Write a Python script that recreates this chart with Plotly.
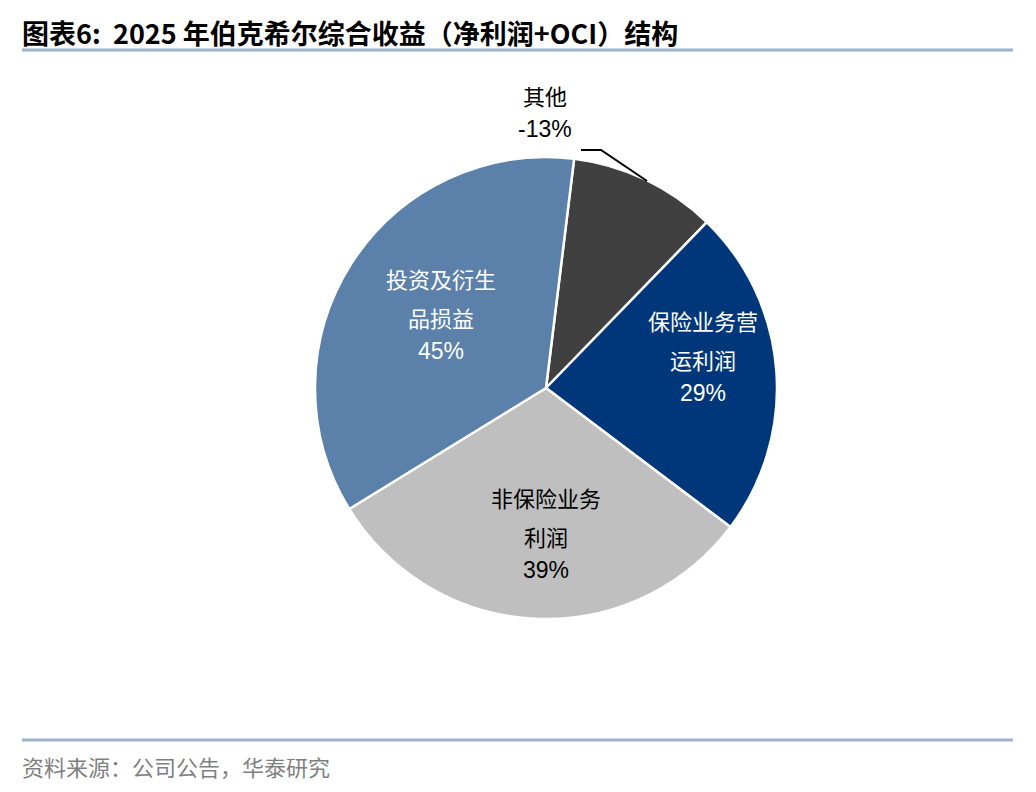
import plotly.graph_objects as go

# 2025 伯克希尔综合收益结构 (%)
categories = ["其他", "保险业务营运利润", "非保险业务利润", "投资及衍生品损益"]
shares = [-13, 29, 39, 45]
label_lines = [["其他"], ["保险业务营", "运利润"], ["非保险业务", "利润"], ["投资及衍生", "品损益"]]

slice_colors = ["#404040", "#00377A", "#BFBFBF", "#5B80AA"]
text_colors = ["#000000", "#FFFFFF", "#000000", "#FFFFFF"]
# label anchor (pixel x, pixel y of first line) for each slice
label_pos = [(545, 95), (703, 320), (546, 497), (441, 278)]

W, H = 1036, 792
CJK = "Noto Sans CJK SC"

fig = go.Figure(go.Pie(
    labels=categories,
    values=[abs(v) for v in shares],
    sort=False,
    direction="clockwise",
    rotation=7,
    marker=dict(colors=slice_colors, line=dict(color="white", width=2.5)),
    textinfo="none",
    hoverinfo="label+percent",
    showlegend=False,
    domain=dict(x=[315 / W, 777 / W], y=[(H - 619) / H, (H - 157) / H]),
))

annotations = []
for lines, v, (px, py), tc in zip(label_lines, shares, label_pos, text_colors):
    for k, line in enumerate(lines):
        annotations.append(dict(x=px / W, y=(H - py - 39 * k) / H, xref="paper", yref="paper",
                                xanchor="center", yanchor="middle",
                                text=line, showarrow=False,
                                font=dict(family=CJK, size=22, color=tc)))
    annotations.append(dict(x=px / W, y=(H - py - 39 * len(lines) + 5) / H, xref="paper", yref="paper",
                            xanchor="center", yanchor="middle",
                            text=f"{v}%", showarrow=False,
                            font=dict(family="Liberation Sans, Arial", size=23, color=tc)))

# title and source
annotations.append(dict(x=20 / W, y=(H - 32) / H, xref="paper", yref="paper", xanchor="left", yanchor="middle",
                        text="<b>图表6:  2025 年伯克希尔综合收益（净利润+OCI）结构</b>", showarrow=False,
                        font=dict(family=CJK, size=27, color="#000000")))
annotations.append(dict(x=20 / W, y=(H - 766) / H, xref="paper", yref="paper", xanchor="left", yanchor="middle",
                        text="资料来源：公司公告，华泰研究", showarrow=False,
                        font=dict(family=CJK, size=22, color="#7F7F7F")))

shapes = [
    dict(type="line", xref="paper", yref="paper", x0=22 / W, x1=1013 / W, y0=(H - 50) / H, y1=(H - 50) / H,
         line=dict(color="#9DB1C9", width=3)),
    dict(type="line", xref="paper", yref="paper", x0=22 / W, x1=1013 / W, y0=(H - 740) / H, y1=(H - 740) / H,
         line=dict(color="#9DB1C9", width=3)),
    # leader line for 其他
    dict(type="path", xref="paper", yref="paper",
         path=f"M {581 / W},{(H - 150) / H} L {601 / W},{(H - 150) / H} L {647 / W},{(H - 181) / H}",
         line=dict(color="#000000", width=2)),
]

fig.update_layout(
    width=W, height=H,
    margin=dict(l=0, r=0, t=0, b=0),
    paper_bgcolor="white",
    plot_bgcolor="white",
    annotations=annotations,
    shapes=shapes,
)

fig.write_html("out.html", config={"displayModeBar": False},
               post_script="document.body.style.margin='0';")
